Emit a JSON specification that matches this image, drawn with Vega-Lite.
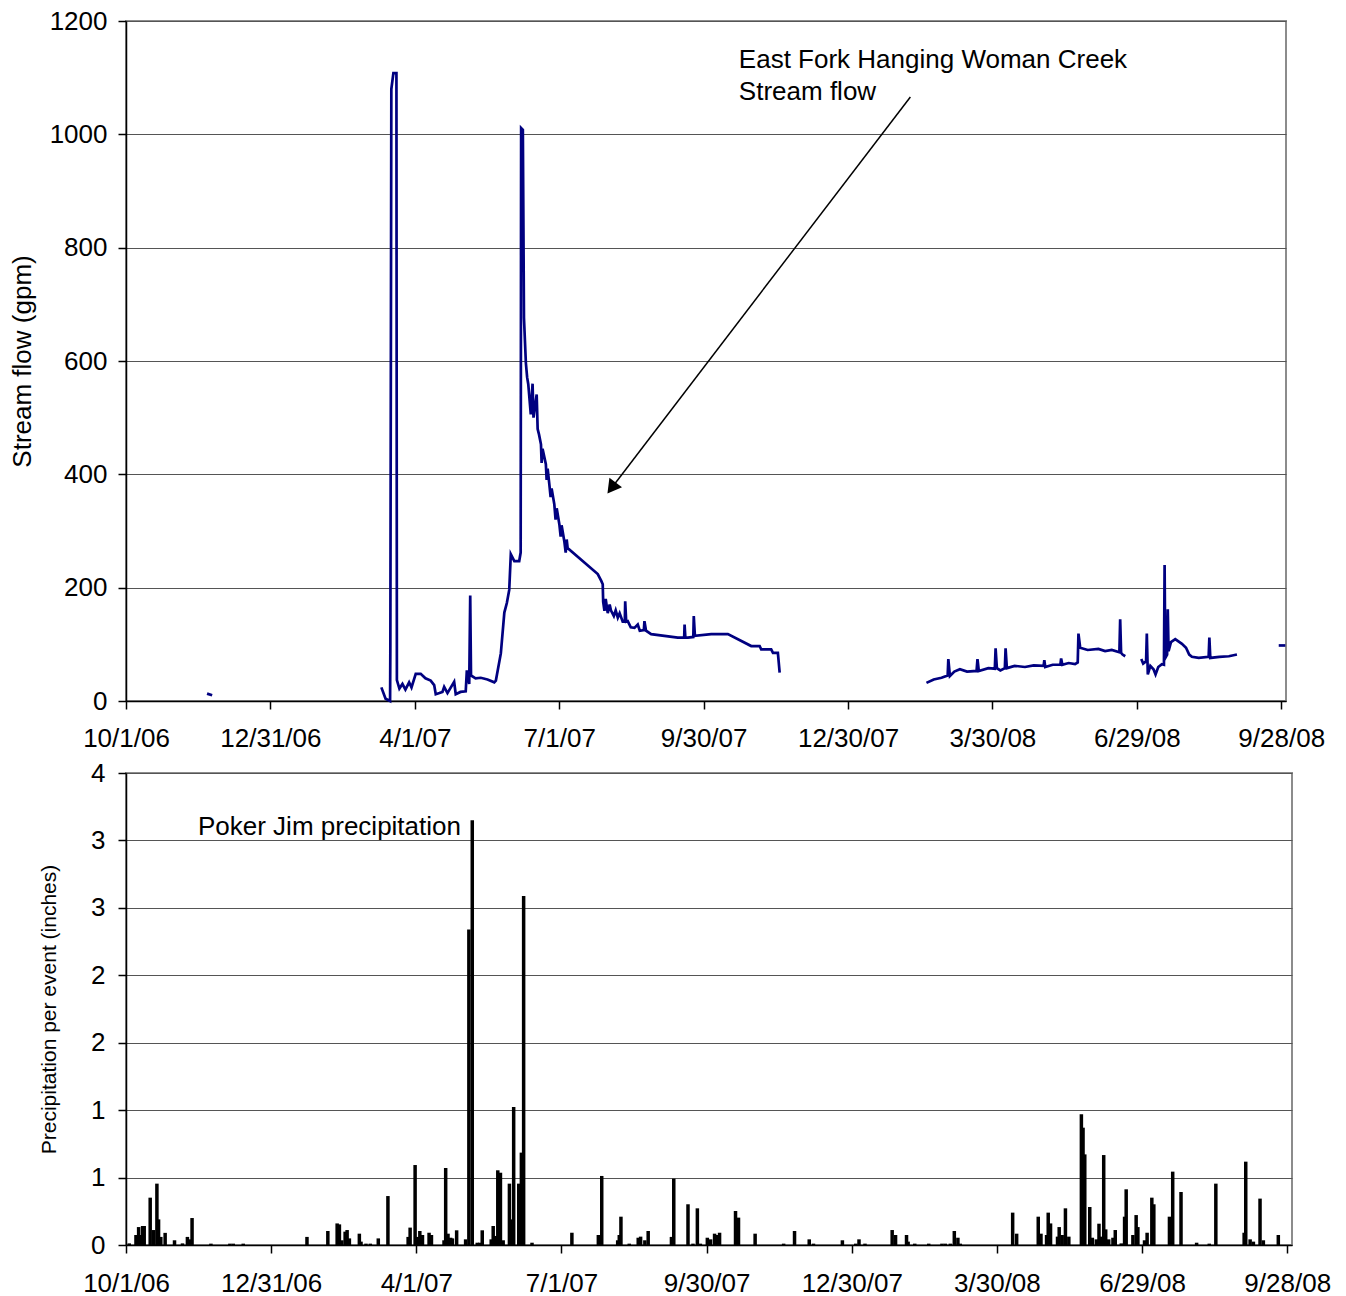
{
  "$schema": "https://vega.github.io/schema/vega-lite/v6.json",
  "padding": {"left": 8, "top": 7, "right": 5, "bottom": 5},
  "spacing": 7,
  "background": "white",
  "config": {
    "font": "Liberation Sans",
    "view": {"stroke": "#8c8c8c", "strokeWidth": 2},
    "axis": {
      "labelFont": "Liberation Sans", "labelFontSize": 26, "labelColor": "black",
      "titleFont": "Liberation Sans", "titleColor": "black", "titleFontWeight": "normal",
      "domainColor": "black", "domainWidth": 1.5, "tickColor": "black", "tickSize": 8, "tickWidth": 1.5,
      "gridColor": "#555555", "gridWidth": 1
    }
  },
  "datasets": {
    "flow": [
      {"t": "2006-11-21T02:00", "q": 13, "s": 1},
      {"t": "2006-11-24T07:00", "q": 10, "s": 1},
      {"t": "2007-03-10T22:00", "q": 24, "s": 2},
      {"t": "2007-03-13T14:00", "q": 4, "s": 2},
      {"t": "2007-03-16T10:00", "q": 0, "s": 2},
      {"t": "2007-03-16T14:00", "q": 92, "s": 2},
      {"t": "2007-03-17T05:00", "q": 1080, "s": 2},
      {"t": "2007-03-18T12:00", "q": 1108, "s": 2},
      {"t": "2007-03-20T10:00", "q": 1108, "s": 2},
      {"t": "2007-03-20T17:00", "q": 37, "s": 2},
      {"t": "2007-03-22T07:00", "q": 22, "s": 2},
      {"t": "2007-03-24T05:00", "q": 30, "s": 2},
      {"t": "2007-03-26T02:00", "q": 20, "s": 2},
      {"t": "2007-03-28T10:00", "q": 33, "s": 2},
      {"t": "2007-03-29T22:00", "q": 24, "s": 2},
      {"t": "2007-04-01T14:00", "q": 48, "s": 2},
      {"t": "2007-04-04T17:00", "q": 48, "s": 2},
      {"t": "2007-04-07T17:00", "q": 40, "s": 2},
      {"t": "2007-04-11T00:00", "q": 36, "s": 2},
      {"t": "2007-04-13T05:00", "q": 28, "s": 2},
      {"t": "2007-04-14T05:00", "q": 12, "s": 2},
      {"t": "2007-04-16T12:00", "q": 14, "s": 2},
      {"t": "2007-04-18T10:00", "q": 16, "s": 2},
      {"t": "2007-04-19T12:00", "q": 25, "s": 2},
      {"t": "2007-04-21T14:00", "q": 14, "s": 2},
      {"t": "2007-04-25T19:00", "q": 34, "s": 2},
      {"t": "2007-04-26T19:00", "q": 12, "s": 2},
      {"t": "2007-04-29T19:00", "q": 16, "s": 2},
      {"t": "2007-05-03T02:00", "q": 17, "s": 2},
      {"t": "2007-05-03T19:00", "q": 54, "s": 2},
      {"t": "2007-05-05T07:00", "q": 30, "s": 2},
      {"t": "2007-05-05T22:00", "q": 186, "s": 2},
      {"t": "2007-05-06T10:00", "q": 45, "s": 2},
      {"t": "2007-05-09T07:00", "q": 40, "s": 2},
      {"t": "2007-05-12T14:00", "q": 41, "s": 2},
      {"t": "2007-05-16T19:00", "q": 38, "s": 2},
      {"t": "2007-05-21T02:00", "q": 33, "s": 2},
      {"t": "2007-05-22T02:00", "q": 36, "s": 2},
      {"t": "2007-05-25T05:00", "q": 84, "s": 2},
      {"t": "2007-05-27T10:00", "q": 156, "s": 2},
      {"t": "2007-05-29T00:00", "q": 173, "s": 2},
      {"t": "2007-05-30T12:00", "q": 196, "s": 2},
      {"t": "2007-05-31T12:00", "q": 259, "s": 2},
      {"t": "2007-06-02T17:00", "q": 247, "s": 2},
      {"t": "2007-06-05T19:00", "q": 247, "s": 2},
      {"t": "2007-06-06T17:00", "q": 262, "s": 2},
      {"t": "2007-06-07T00:00", "q": 1011, "s": 2},
      {"t": "2007-06-08T02:00", "q": 1008, "s": 2},
      {"t": "2007-06-08T19:00", "q": 676, "s": 2},
      {"t": "2007-06-10T00:00", "q": 596, "s": 2},
      {"t": "2007-06-10T19:00", "q": 571, "s": 2},
      {"t": "2007-06-11T12:00", "q": 559, "s": 2},
      {"t": "2007-06-13T02:00", "q": 506, "s": 2},
      {"t": "2007-06-14T05:00", "q": 560, "s": 2},
      {"t": "2007-06-14T19:00", "q": 500, "s": 2},
      {"t": "2007-06-16T19:00", "q": 541, "s": 2},
      {"t": "2007-06-17T10:00", "q": 480, "s": 2},
      {"t": "2007-06-18T07:00", "q": 470, "s": 2},
      {"t": "2007-06-19T12:00", "q": 453, "s": 2},
      {"t": "2007-06-19T22:00", "q": 420, "s": 2},
      {"t": "2007-06-20T12:00", "q": 445, "s": 2},
      {"t": "2007-06-22T14:00", "q": 418, "s": 2},
      {"t": "2007-06-23T02:00", "q": 390, "s": 2},
      {"t": "2007-06-23T17:00", "q": 410, "s": 2},
      {"t": "2007-06-24T19:00", "q": 382, "s": 2},
      {"t": "2007-06-25T14:00", "q": 360, "s": 2},
      {"t": "2007-06-26T05:00", "q": 375, "s": 2},
      {"t": "2007-06-27T22:00", "q": 347, "s": 2},
      {"t": "2007-06-28T17:00", "q": 320, "s": 2},
      {"t": "2007-06-29T10:00", "q": 340, "s": 2},
      {"t": "2007-07-01T02:00", "q": 312, "s": 2},
      {"t": "2007-07-01T22:00", "q": 290, "s": 2},
      {"t": "2007-07-02T12:00", "q": 310, "s": 2},
      {"t": "2007-07-04T05:00", "q": 282, "s": 2},
      {"t": "2007-07-05T02:00", "q": 262, "s": 2},
      {"t": "2007-07-05T17:00", "q": 285, "s": 2},
      {"t": "2007-07-06T07:00", "q": 270, "s": 2},
      {"t": "2007-07-25T07:00", "q": 224, "s": 2},
      {"t": "2007-07-27T12:00", "q": 212, "s": 2},
      {"t": "2007-07-28T10:00", "q": 206, "s": 2},
      {"t": "2007-07-28T17:00", "q": 175, "s": 2},
      {"t": "2007-07-29T12:00", "q": 159, "s": 2},
      {"t": "2007-07-30T07:00", "q": 180, "s": 2},
      {"t": "2007-07-31T14:00", "q": 155, "s": 2},
      {"t": "2007-08-01T19:00", "q": 170, "s": 2},
      {"t": "2007-08-02T14:00", "q": 160, "s": 2},
      {"t": "2007-08-04T10:00", "q": 150, "s": 2},
      {"t": "2007-08-05T14:00", "q": 160, "s": 2},
      {"t": "2007-08-06T22:00", "q": 147, "s": 2},
      {"t": "2007-08-08T02:00", "q": 155, "s": 2},
      {"t": "2007-08-10T00:00", "q": 140, "s": 2},
      {"t": "2007-08-11T08:00", "q": 140, "s": 2},
      {"t": "2007-08-11T14:00", "q": 176, "s": 2},
      {"t": "2007-08-12T05:00", "q": 140, "s": 2},
      {"t": "2007-08-13T05:00", "q": 141, "s": 2},
      {"t": "2007-08-15T02:00", "q": 130, "s": 2},
      {"t": "2007-08-17T10:00", "q": 129, "s": 2},
      {"t": "2007-08-19T12:00", "q": 135, "s": 2},
      {"t": "2007-08-20T19:00", "q": 124, "s": 2},
      {"t": "2007-08-23T08:00", "q": 125, "s": 2},
      {"t": "2007-08-23T17:00", "q": 141, "s": 2},
      {"t": "2007-08-24T17:00", "q": 124, "s": 2},
      {"t": "2007-08-27T22:00", "q": 118, "s": 2},
      {"t": "2007-09-13T17:00", "q": 112, "s": 2},
      {"t": "2007-09-17T18:00", "q": 112, "s": 2},
      {"t": "2007-09-18T00:00", "q": 135, "s": 2},
      {"t": "2007-09-18T12:00", "q": 112, "s": 2},
      {"t": "2007-09-20T02:00", "q": 112, "s": 2},
      {"t": "2007-09-23T12:00", "q": 113, "s": 2},
      {"t": "2007-09-23T19:00", "q": 150, "s": 2},
      {"t": "2007-09-24T12:00", "q": 115, "s": 2},
      {"t": "2007-10-04T19:00", "q": 118, "s": 2},
      {"t": "2007-10-15T07:00", "q": 118, "s": 2},
      {"t": "2007-10-30T00:00", "q": 97, "s": 2},
      {"t": "2007-11-04T07:00", "q": 97, "s": 2},
      {"t": "2007-11-05T07:00", "q": 91, "s": 2},
      {"t": "2007-11-11T14:00", "q": 91, "s": 2},
      {"t": "2007-11-12T17:00", "q": 85, "s": 2},
      {"t": "2007-11-15T19:00", "q": 85, "s": 2},
      {"t": "2007-11-16T22:00", "q": 50, "s": 2},
      {"t": "2008-02-17T10:00", "q": 32, "s": 3},
      {"t": "2008-02-22T00:00", "q": 38, "s": 3},
      {"t": "2008-02-26T22:00", "q": 41, "s": 3},
      {"t": "2008-03-01T19:00", "q": 45, "s": 3},
      {"t": "2008-03-02T05:00", "q": 74, "s": 3},
      {"t": "2008-03-03T05:00", "q": 44, "s": 3},
      {"t": "2008-03-06T00:00", "q": 52, "s": 3},
      {"t": "2008-03-09T12:00", "q": 56, "s": 3},
      {"t": "2008-03-14T00:00", "q": 52, "s": 3},
      {"t": "2008-03-20T00:00", "q": 53, "s": 3},
      {"t": "2008-03-20T14:00", "q": 74, "s": 3},
      {"t": "2008-03-21T10:00", "q": 53, "s": 3},
      {"t": "2008-03-27T10:00", "q": 58, "s": 3},
      {"t": "2008-03-31T12:00", "q": 57, "s": 3},
      {"t": "2008-04-01T00:00", "q": 93, "s": 3},
      {"t": "2008-04-01T19:00", "q": 58, "s": 3},
      {"t": "2008-04-04T00:00", "q": 54, "s": 3},
      {"t": "2008-04-06T20:00", "q": 58, "s": 3},
      {"t": "2008-04-07T07:00", "q": 93, "s": 3},
      {"t": "2008-04-08T02:00", "q": 58, "s": 3},
      {"t": "2008-04-13T00:00", "q": 62, "s": 3},
      {"t": "2008-04-19T12:00", "q": 60, "s": 3},
      {"t": "2008-04-25T00:00", "q": 63, "s": 3},
      {"t": "2008-05-01T06:00", "q": 62, "s": 3},
      {"t": "2008-05-01T17:00", "q": 72, "s": 3},
      {"t": "2008-05-02T07:00", "q": 60, "s": 3},
      {"t": "2008-05-07T00:00", "q": 64, "s": 3},
      {"t": "2008-05-11T20:00", "q": 64, "s": 3},
      {"t": "2008-05-12T07:00", "q": 75, "s": 3},
      {"t": "2008-05-13T02:00", "q": 64, "s": 3},
      {"t": "2008-05-17T00:00", "q": 67, "s": 3},
      {"t": "2008-05-21T02:00", "q": 65, "s": 3},
      {"t": "2008-05-22T18:00", "q": 68, "s": 3},
      {"t": "2008-05-23T05:00", "q": 119, "s": 3},
      {"t": "2008-05-24T07:00", "q": 94, "s": 3},
      {"t": "2008-05-29T00:00", "q": 90, "s": 3},
      {"t": "2008-06-04T19:00", "q": 92, "s": 3},
      {"t": "2008-06-09T00:00", "q": 88, "s": 3},
      {"t": "2008-06-13T05:00", "q": 90, "s": 3},
      {"t": "2008-06-18T00:00", "q": 86, "s": 3},
      {"t": "2008-06-18T12:00", "q": 144, "s": 3},
      {"t": "2008-06-19T02:00", "q": 85, "s": 3},
      {"t": "2008-06-20T00:00", "q": 82, "s": 3},
      {"t": "2008-06-21T17:00", "q": 79, "s": 3},
      {"t": "2008-07-01T19:00", "q": 74, "s": 4},
      {"t": "2008-07-03T00:00", "q": 66, "s": 4},
      {"t": "2008-07-04T20:00", "q": 70, "s": 4},
      {"t": "2008-07-05T07:00", "q": 119, "s": 4},
      {"t": "2008-07-05T22:00", "q": 47, "s": 4},
      {"t": "2008-07-07T12:00", "q": 62, "s": 4},
      {"t": "2008-07-09T12:00", "q": 56, "s": 4},
      {"t": "2008-07-10T19:00", "q": 47, "s": 4},
      {"t": "2008-07-12T12:00", "q": 60, "s": 4},
      {"t": "2008-07-14T19:00", "q": 65, "s": 4},
      {"t": "2008-07-16T02:00", "q": 64, "s": 4},
      {"t": "2008-07-16T12:00", "q": 240, "s": 4},
      {"t": "2008-07-16T22:00", "q": 76, "s": 4},
      {"t": "2008-07-18T02:00", "q": 82, "s": 4},
      {"t": "2008-07-18T12:00", "q": 162, "s": 4},
      {"t": "2008-07-19T00:00", "q": 88, "s": 4},
      {"t": "2008-07-20T12:00", "q": 104, "s": 4},
      {"t": "2008-07-23T05:00", "q": 109, "s": 4},
      {"t": "2008-07-27T10:00", "q": 101, "s": 4},
      {"t": "2008-07-30T00:00", "q": 94, "s": 4},
      {"t": "2008-08-01T00:00", "q": 82, "s": 4},
      {"t": "2008-08-02T17:00", "q": 78, "s": 4},
      {"t": "2008-08-07T00:00", "q": 76, "s": 4},
      {"t": "2008-08-13T06:00", "q": 78, "s": 4},
      {"t": "2008-08-13T17:00", "q": 112, "s": 4},
      {"t": "2008-08-14T07:00", "q": 76, "s": 4},
      {"t": "2008-08-20T00:00", "q": 78, "s": 4},
      {"t": "2008-08-26T00:00", "q": 79, "s": 4},
      {"t": "2008-08-31T02:00", "q": 82, "s": 4},
      {"t": "2008-09-26T10:00", "q": 98, "s": 5},
      {"t": "2008-09-30T14:00", "q": 98, "s": 5}
    ],
    "precip": [
      {"t": "2006-10-03T01:00", "p": 0.012},
      {"t": "2006-10-07T06:00", "p": 0.074},
      {"t": "2006-10-08T22:00", "p": 0.133},
      {"t": "2006-10-09T22:00", "p": 0.074},
      {"t": "2006-10-11T10:00", "p": 0.141},
      {"t": "2006-10-12T10:00", "p": 0.141},
      {"t": "2006-10-16T04:00", "p": 0.351},
      {"t": "2006-10-18T07:00", "p": 0.111},
      {"t": "2006-10-20T09:00", "p": 0.455},
      {"t": "2006-10-21T10:00", "p": 0.19},
      {"t": "2006-10-22T20:00", "p": 0.06},
      {"t": "2006-10-25T13:00", "p": 0.09},
      {"t": "2006-10-31T10:00", "p": 0.035},
      {"t": "2006-11-05T10:00", "p": 0.012},
      {"t": "2006-11-08T12:00", "p": 0.06},
      {"t": "2006-11-09T18:00", "p": 0.042},
      {"t": "2006-11-11T10:00", "p": 0.2},
      {"t": "2006-11-23T06:00", "p": 0.01},
      {"t": "2006-12-05T03:00", "p": 0.01},
      {"t": "2006-12-07T06:00", "p": 0.01},
      {"t": "2006-12-13T12:00", "p": 0.01},
      {"t": "2007-01-22T11:00", "p": 0.06},
      {"t": "2007-02-04T13:00", "p": 0.104},
      {"t": "2007-02-10T09:00", "p": 0.16},
      {"t": "2007-02-11T19:00", "p": 0.153},
      {"t": "2007-02-13T07:00", "p": 0.035},
      {"t": "2007-02-15T09:00", "p": 0.099},
      {"t": "2007-02-16T15:00", "p": 0.111},
      {"t": "2007-02-18T01:00", "p": 0.049},
      {"t": "2007-02-24T07:00", "p": 0.084},
      {"t": "2007-02-25T08:00", "p": 0.025},
      {"t": "2007-02-28T11:00", "p": 0.01},
      {"t": "2007-03-03T04:00", "p": 0.01},
      {"t": "2007-03-08T04:00", "p": 0.049},
      {"t": "2007-03-14T05:00", "p": 0.363},
      {"t": "2007-03-26T21:00", "p": 0.06},
      {"t": "2007-03-28T03:00", "p": 0.129},
      {"t": "2007-03-31T06:00", "p": 0.593},
      {"t": "2007-04-01T18:00", "p": 0.06},
      {"t": "2007-04-03T05:00", "p": 0.104},
      {"t": "2007-04-04T21:00", "p": 0.074},
      {"t": "2007-04-09T00:00", "p": 0.091},
      {"t": "2007-04-10T12:00", "p": 0.074},
      {"t": "2007-04-18T09:00", "p": 0.035},
      {"t": "2007-04-19T10:00", "p": 0.571},
      {"t": "2007-04-20T21:00", "p": 0.084},
      {"t": "2007-04-22T13:00", "p": 0.054},
      {"t": "2007-04-23T15:00", "p": 0.049},
      {"t": "2007-04-26T07:00", "p": 0.109},
      {"t": "2007-05-01T22:00", "p": 0.042},
      {"t": "2007-05-03T23:00", "p": 2.34},
      {"t": "2007-05-06T02:00", "p": 3.15},
      {"t": "2007-05-09T05:00", "p": 0.017},
      {"t": "2007-05-10T20:00", "p": 0.017},
      {"t": "2007-05-12T08:00", "p": 0.109},
      {"t": "2007-05-17T23:00", "p": 0.042},
      {"t": "2007-05-19T05:00", "p": 0.141},
      {"t": "2007-05-20T15:00", "p": 0.067},
      {"t": "2007-05-22T02:00", "p": 0.554},
      {"t": "2007-05-23T18:00", "p": 0.536},
      {"t": "2007-05-25T11:00", "p": 0.035},
      {"t": "2007-05-29T09:00", "p": 0.455},
      {"t": "2007-05-30T15:00", "p": 0.19},
      {"t": "2007-06-01T01:00", "p": 1.023},
      {"t": "2007-06-04T05:00", "p": 0.455},
      {"t": "2007-06-05T21:00", "p": 0.685},
      {"t": "2007-06-07T07:00", "p": 2.588},
      {"t": "2007-06-12T13:00", "p": 0.017},
      {"t": "2007-07-07T13:00", "p": 0.091},
      {"t": "2007-07-24T03:00", "p": 0.074},
      {"t": "2007-07-26T06:00", "p": 0.512},
      {"t": "2007-08-05T06:00", "p": 0.035},
      {"t": "2007-08-06T06:00", "p": 0.074},
      {"t": "2007-08-07T07:00", "p": 0.21},
      {"t": "2007-08-12T12:00", "p": 0.01},
      {"t": "2007-08-18T03:00", "p": 0.054},
      {"t": "2007-08-19T15:00", "p": 0.062},
      {"t": "2007-08-22T07:00", "p": 0.035},
      {"t": "2007-08-24T09:00", "p": 0.104},
      {"t": "2007-09-07T23:00", "p": 0.06},
      {"t": "2007-09-09T10:00", "p": 0.492},
      {"t": "2007-09-18T08:00", "p": 0.302},
      {"t": "2007-09-21T11:00", "p": 0.01},
      {"t": "2007-09-24T05:00", "p": 0.272},
      {"t": "2007-09-26T02:00", "p": 0.01},
      {"t": "2007-09-30T11:00", "p": 0.054},
      {"t": "2007-10-02T12:00", "p": 0.042},
      {"t": "2007-10-05T00:00", "p": 0.084},
      {"t": "2007-10-06T11:00", "p": 0.074},
      {"t": "2007-10-08T03:00", "p": 0.091},
      {"t": "2007-10-18T03:00", "p": 0.252},
      {"t": "2007-10-20T00:00", "p": 0.203},
      {"t": "2007-10-30T10:00", "p": 0.084},
      {"t": "2007-11-17T07:00", "p": 0.01},
      {"t": "2007-11-24T03:00", "p": 0.104},
      {"t": "2007-12-03T08:00", "p": 0.042},
      {"t": "2007-12-06T00:00", "p": 0.01},
      {"t": "2007-12-24T03:00", "p": 0.035},
      {"t": "2008-01-01T12:00", "p": 0.01},
      {"t": "2008-01-03T13:00", "p": 0.042},
      {"t": "2008-01-07T07:00", "p": 0.01},
      {"t": "2008-01-24T08:00", "p": 0.111},
      {"t": "2008-01-26T11:00", "p": 0.074},
      {"t": "2008-02-02T08:00", "p": 0.074},
      {"t": "2008-02-03T08:00", "p": 0.025},
      {"t": "2008-02-07T12:00", "p": 0.01},
      {"t": "2008-02-16T06:00", "p": 0.01},
      {"t": "2008-02-24T13:00", "p": 0.01},
      {"t": "2008-02-26T16:00", "p": 0.01},
      {"t": "2008-02-29T19:00", "p": 0.01},
      {"t": "2008-03-03T07:00", "p": 0.104},
      {"t": "2008-03-05T13:00", "p": 0.054},
      {"t": "2008-03-07T01:00", "p": 0.01},
      {"t": "2008-04-08T21:00", "p": 0.24},
      {"t": "2008-04-11T09:00", "p": 0.084},
      {"t": "2008-04-24T22:00", "p": 0.21},
      {"t": "2008-04-26T15:00", "p": 0.084},
      {"t": "2008-04-30T03:00", "p": 0.074},
      {"t": "2008-05-01T04:00", "p": 0.24},
      {"t": "2008-05-02T15:00", "p": 0.16},
      {"t": "2008-05-07T00:00", "p": 0.062},
      {"t": "2008-05-08T01:00", "p": 0.133},
      {"t": "2008-05-09T22:00", "p": 0.074},
      {"t": "2008-05-11T23:00", "p": 0.272},
      {"t": "2008-05-14T02:00", "p": 0.062},
      {"t": "2008-05-21T23:00", "p": 0.969},
      {"t": "2008-05-23T00:00", "p": 0.87},
      {"t": "2008-05-24T02:00", "p": 0.672},
      {"t": "2008-05-27T05:00", "p": 0.282},
      {"t": "2008-05-28T20:00", "p": 0.054},
      {"t": "2008-05-31T08:00", "p": 0.042},
      {"t": "2008-06-02T00:00", "p": 0.158},
      {"t": "2008-06-03T11:00", "p": 0.062},
      {"t": "2008-06-04T23:00", "p": 0.667},
      {"t": "2008-06-06T05:00", "p": 0.116},
      {"t": "2008-06-08T02:00", "p": 0.042},
      {"t": "2008-06-10T18:00", "p": 0.054},
      {"t": "2008-06-12T05:00", "p": 0.111},
      {"t": "2008-06-15T23:00", "p": 0.012},
      {"t": "2008-06-18T01:00", "p": 0.21},
      {"t": "2008-06-19T01:00", "p": 0.413},
      {"t": "2008-06-23T06:00", "p": 0.074},
      {"t": "2008-06-25T07:00", "p": 0.222},
      {"t": "2008-06-26T09:00", "p": 0.133},
      {"t": "2008-06-30T13:00", "p": 0.035},
      {"t": "2008-07-02T04:00", "p": 0.091},
      {"t": "2008-07-05T03:00", "p": 0.351},
      {"t": "2008-07-06T09:00", "p": 0.302},
      {"t": "2008-07-16T04:00", "p": 0.21},
      {"t": "2008-07-18T05:00", "p": 0.544},
      {"t": "2008-07-23T10:00", "p": 0.393},
      {"t": "2008-08-02T05:00", "p": 0.017},
      {"t": "2008-08-10T03:00", "p": 0.01},
      {"t": "2008-08-14T06:00", "p": 0.455},
      {"t": "2008-09-01T00:00", "p": 0.091},
      {"t": "2008-09-02T00:00", "p": 0.618},
      {"t": "2008-09-04T18:00", "p": 0.042},
      {"t": "2008-09-06T19:00", "p": 0.025},
      {"t": "2008-09-10T23:00", "p": 0.344},
      {"t": "2008-09-13T01:00", "p": 0.035},
      {"t": "2008-09-22T10:00", "p": 0.074}
    ],
    "arrow": [
      {"t1": "2008-02-07T07:00", "q1": 1066, "t2": "2007-08-03T00:00", "q2": 376}
    ],
    "arrowhead": [
      {"t": "2007-08-03T00:00", "q": 376}
    ],
    "flowLabel": [
      {"t": "2007-10-22T05:00", "q": 1117, "label": "East Fork Hanging Woman Creek"},
      {"t": "2007-10-22T05:00", "q": 1061, "label": "Stream flow"}
    ],
    "precipLabel": [
      {"t": "2006-11-15T03:00", "p": 3.04, "label": "Poker Jim precipitation"}
    ]
  },
  "vconcat": [
    {
      "width": 1160,
      "height": 680,
      "layer": [
        {
          "data": {"name": "flow"},
          "mark": {"type": "line", "color": "#000080", "strokeWidth": 2.7},
          "encoding": {
            "x": {
              "field": "t", "type": "temporal",
              "scale": {"domain": [{"year": 2006, "month": 10, "date": 1}, {"year": 2008, "month": 10, "date": 1}], "nice": false},
              "axis": {
                "title": null, "format": "%-m/%-d/%y", "labelPadding": 16, "labelOverlap": false, "labelFlush": false, "grid": false,
                "values": [
                  {"year": 2006, "month": 10, "date": 1}, {"year": 2006, "month": 12, "date": 31},
                  {"year": 2007, "month": 4, "date": 1}, {"year": 2007, "month": 7, "date": 1},
                  {"year": 2007, "month": 9, "date": 30}, {"year": 2007, "month": 12, "date": 30},
                  {"year": 2008, "month": 3, "date": 30}, {"year": 2008, "month": 6, "date": 29},
                  {"year": 2008, "month": 9, "date": 28}
                ]
              }
            },
            "y": {
              "field": "q", "type": "quantitative",
              "scale": {"domain": [0, 1200], "nice": false},
              "axis": {
                "title": "Stream flow (gpm)", "titleFontSize": 26, "titlePadding": 14, "labelPadding": 11, "format": "d",
                "values": [0, 200, 400, 600, 800, 1000, 1200], "grid": true
              }
            },
            "detail": {"field": "s"}
          }
        },
        {
          "data": {"name": "arrow"},
          "mark": {"type": "rule", "color": "black", "strokeWidth": 1.5},
          "encoding": {
            "x": {"field": "t1", "type": "temporal"},
            "y": {"field": "q1", "type": "quantitative"},
            "x2": {"field": "t2"},
            "y2": {"field": "q2"}
          }
        },
        {
          "data": {"name": "arrowhead"},
          "mark": {"type": "point", "shape": "triangle-up", "filled": true, "color": "black", "opacity": 1, "size": 250, "angle": 217},
          "encoding": {
            "x": {"field": "t", "type": "temporal"},
            "y": {"field": "q", "type": "quantitative"}
          }
        },
        {
          "data": {"name": "flowLabel"},
          "mark": {"type": "text", "align": "left", "baseline": "alphabetic", "fontSize": 26, "color": "black", "font": "Liberation Sans"},
          "encoding": {
            "x": {"field": "t", "type": "temporal"},
            "y": {"field": "q", "type": "quantitative"},
            "text": {"field": "label"}
          }
        }
      ]
    },
    {
      "width": 1166,
      "height": 472,
      "layer": [
        {
          "data": {"name": "precip"},
          "mark": {"type": "rule", "color": "black", "strokeWidth": 3.5},
          "encoding": {
            "x": {
              "field": "t", "type": "temporal",
              "scale": {"domain": [{"year": 2006, "month": 10, "date": 1}, {"year": 2008, "month": 10, "date": 1}], "nice": false},
              "axis": {
                "title": null, "format": "%-m/%-d/%y", "labelPadding": 17, "labelOverlap": false, "labelFlush": false, "grid": false,
                "values": [
                  {"year": 2006, "month": 10, "date": 1}, {"year": 2006, "month": 12, "date": 31},
                  {"year": 2007, "month": 4, "date": 1}, {"year": 2007, "month": 7, "date": 1},
                  {"year": 2007, "month": 9, "date": 30}, {"year": 2007, "month": 12, "date": 30},
                  {"year": 2008, "month": 3, "date": 30}, {"year": 2008, "month": 6, "date": 29},
                  {"year": 2008, "month": 9, "date": 28}
                ]
              }
            },
            "y": {
              "field": "p", "type": "quantitative",
              "scale": {"domain": [0, 3.5], "nice": false},
              "axis": {
                "title": "Precipitation per event (inches)", "titleFontSize": 21, "titlePadding": 31, "labelPadding": 13,
                "values": [0, 0.5, 1, 1.5, 2, 2.5, 3, 3.5], "labelExpr": "'' + round(datum.value)", "grid": true
              }
            },
            "y2": {"datum": 0}
          }
        },
        {
          "data": {"name": "precipLabel"},
          "mark": {"type": "text", "align": "left", "baseline": "alphabetic", "fontSize": 26, "color": "black", "font": "Liberation Sans"},
          "encoding": {
            "x": {"field": "t", "type": "temporal"},
            "y": {"field": "p", "type": "quantitative"},
            "text": {"field": "label"}
          }
        }
      ]
    }
  ]
}
